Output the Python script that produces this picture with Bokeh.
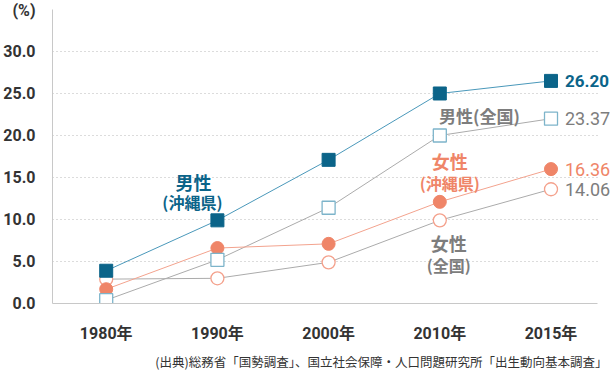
from bokeh.plotting import figure
from bokeh.models import FixedTicker, Label, Title
from bokeh.embed import file_html
from bokeh.resources import INLINE

# ---- data ----
years = ["1980年", "1990年", "2000年", "2010年", "2015年"]
x_pos = [0, 1, 2, 3, 4]
male_okinawa = [3.9, 9.9, 17.1, 25.0, 26.5]
male_national = [0.4, 5.2, 11.4, 20.0, 22.0]
female_okinawa = [1.7, 6.6, 7.1, 12.1, 16.0]
female_national = [2.9, 3.0, 4.9, 9.9, 13.6]
end_labels = ["26.20", "23.37", "16.36", "14.06"]
y_ticks = [0, 5, 10, 15, 20, 25, 30]
y_tick_labels = ["0.0", "5.0", "10.0", "15.0", "20.0", "25.0", "30.0"]
unit_label = "(%)"
source_note = "(出典)総務省「国勢調査」、国立社会保障・人口問題研究所「出生動向基本調査」"

BLUE = "#0b6489"
BLUE_LINE = "#4a98ba"
BLUE_LIGHT = "#7db4ca"
SALMON = "#ef8568"
SALMON_LINE = "#f3a38e"
SALMON_LIGHT = "#f4a18c"
GREY_LINE = "#ababab"
GREY_TEXT = "#7d7d7d"
DARK = "#333333"
AXIS = "#c8c8c8"

NUM_FONT = "Roboto"
JP_FONT = "'Noto Sans CJK JP'"
MIX_FONT = "Roboto, 'Noto Sans CJK JP'"

# layout constants (screen geometry of the plot area)
X_START, X_END = -0.483, 4.535
GRID_END = 4.419           # where grid lines / x axis stop on the right
Y_START, Y_END = 0, 36.07
UNIT_POS = 35.0            # height at which the "(%)" unit sits

p = figure(width=610, height=392, title=None,
           x_range=(X_START, X_END), y_range=(Y_START, Y_END),
           output_backend="svg", toolbar_location=None,
           min_border_left=44, min_border_right=0,
           min_border_top=0, min_border_bottom=89)
p.outline_line_color = None
p.background_fill_color = "white"
p.border_fill_color = "white"
p.xgrid.visible = False
p.ygrid.visible = False

# dotted horizontal grid lines (stop short of the right edge)
grid_vals = y_ticks[1:]
p.segment(x0=[X_START] * len(grid_vals), x1=[GRID_END] * len(grid_vals),
          y0=grid_vals, y1=grid_vals, line_color="#b8b8b8",
          line_dash="1 3", line_width=1)

# y axis (unit "(%)" shown as the top label)
p.yaxis.ticker = FixedTicker(ticks=y_ticks + [UNIT_POS])
p.yaxis.major_label_overrides = {**{t: s for t, s in zip(y_ticks, y_tick_labels)},
                                 UNIT_POS: unit_label}
p.yaxis.bounds = (Y_START, UNIT_POS)
p.yaxis.axis_line_color = AXIS
p.yaxis.major_tick_line_color = None
p.yaxis.minor_tick_line_color = None
p.yaxis.major_label_text_font = MIX_FONT
p.yaxis.major_label_text_font_size = "16px"
p.yaxis.major_label_text_font_style = "bold"
p.yaxis.major_label_text_color = DARK
p.yaxis.major_label_standoff = 11

# x axis
p.xaxis.ticker = FixedTicker(ticks=x_pos)
p.xaxis.major_label_overrides = {x: lab for x, lab in zip(x_pos, years)}
p.xaxis.bounds = (X_START, GRID_END)
p.xaxis.axis_line_color = AXIS
p.xaxis.major_tick_line_color = None
p.xaxis.minor_tick_line_color = None
p.xaxis.major_label_text_font = MIX_FONT
p.xaxis.major_label_text_font_size = "16px"
p.xaxis.major_label_text_font_style = "bold"
p.xaxis.major_label_text_color = DARK
p.xaxis.major_label_standoff = 14

# lines
p.line(x_pos, female_national, line_color=GREY_LINE, line_width=1)
p.line(x_pos, male_national, line_color=GREY_LINE, line_width=1)
p.line(x_pos, female_okinawa, line_color=SALMON_LINE, line_width=1)
p.line(x_pos, male_okinawa, line_color=BLUE_LINE, line_width=1)

# markers
p.scatter(x_pos, female_national, marker="circle", size=13,
          fill_color="white", line_color=SALMON_LIGHT, line_width=1.3)
p.scatter(x_pos, female_okinawa, marker="circle", size=13,
          fill_color=SALMON, line_color=SALMON, line_width=1)
p.scatter(x_pos, male_national, marker="square", size=13,
          fill_color="white", line_color=BLUE_LIGHT, line_width=1.3)
p.scatter(x_pos, male_okinawa, marker="square", size=13,
          fill_color=BLUE, line_color=BLUE, line_width=1)

# end value labels
series_end = [male_okinawa, male_national, female_okinawa, female_national]
end_colors = [BLUE, GREY_TEXT, SALMON, GREY_TEXT]
end_weights = ["bold", "normal", "normal", "normal"]
end_sizes = ["17px", "18px", "18px", "18px"]
for vals, txt, col, wt, sz in zip(series_end, end_labels, end_colors,
                                  end_weights, end_sizes):
    p.add_layout(Label(x=x_pos[-1], y=vals[-1], text=txt, x_offset=14,
                       text_baseline="middle", text_align="left",
                       text_font=NUM_FONT, text_font_size=sz,
                       text_font_style=wt, text_color=col))

# series name labels
def name_label(x, y, text, color, size):
    p.add_layout(Label(x=x, y=y, text=text, text_align="center",
                       text_baseline="middle", text_font=JP_FONT,
                       text_font_size=size, text_font_style="bold",
                       text_color=color))

name_label(0.785, 14.5, "男性", BLUE, "18px")
name_label(0.775, 12.1, "(沖縄県)", BLUE, "16px")
name_label(3.356, 22.4, "男性(全国)", GREY_TEXT, "17px")
name_label(3.09, 17.0, "女性", SALMON, "18px")
name_label(3.09, 14.3, "(沖縄県)", SALMON, "16px")
name_label(3.08, 7.2, "女性", GREY_TEXT, "18px")
name_label(3.08, 4.6, "(全国)", GREY_TEXT, "16px")

# source note under the axis
p.add_layout(Title(text=source_note, align="right", offset=3, standoff=8,
                   text_font=JP_FONT, text_font_size="12.5px",
                   text_font_style="normal", text_color=DARK), "below")

open("out.html", "w").write(file_html(p, INLINE))
